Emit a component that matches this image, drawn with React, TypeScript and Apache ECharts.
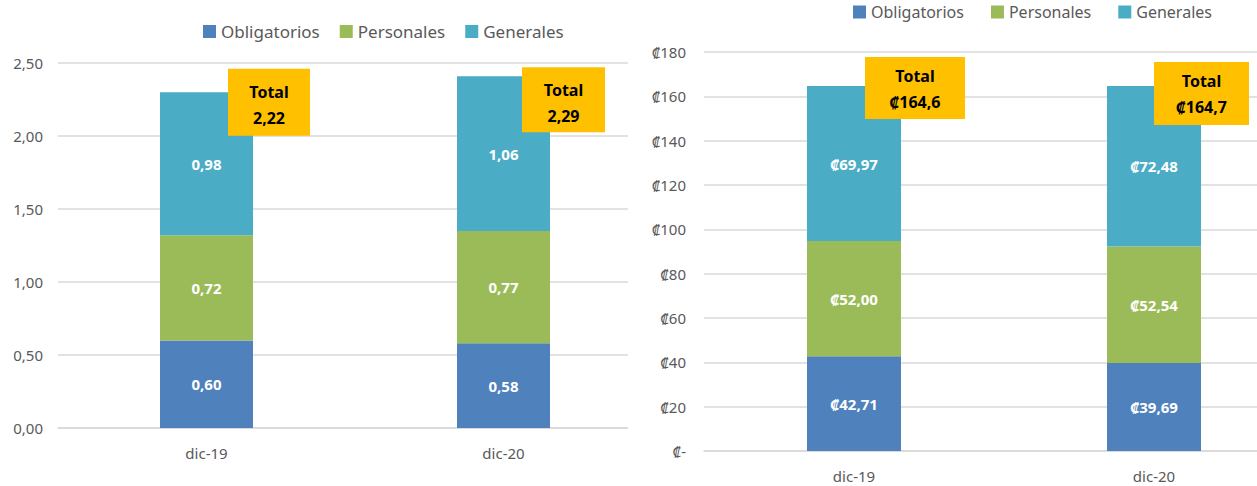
import React, { useEffect, useRef } from "react";
import * as echarts from "echarts";

const categories = ["dic-19", "dic-20"];
const seriesNames = ["Obligatorios", "Personales", "Generales"];

// Left chart values
const leftObligatorios = [0.6, 0.58];
const leftPersonales = [0.72, 0.77];
const leftGenerales = [0.98, 1.06];
const leftTotals = ["2,22", "2,29"];
const leftTicks = [0, 0.5, 1, 1.5, 2, 2.5];

// Right chart values (colones)
const rightObligatorios = [42.71, 39.69];
const rightPersonales = [52.0, 52.54];
const rightGenerales = [69.97, 72.48];
const rightTotals = ["₡164,6", "₡164,7"];
const rightTicks = [0, 20, 40, 60, 80, 100, 120, 140, 160, 180];

const COLORS = ["#4F81BD", "#9BBB59", "#4BACC6"];
const FONT = "'Noto Sans', 'DejaVu Sans', sans-serif";
const GRID_COLOR = "#D9D9D9";
const TEXT_COLOR = "#595959";

const comma = (v: number, d: number) => v.toFixed(d).replace(".", ",");

type BoxStyle = { offset: [number, number]; width: number; pad: number[] };

function buildOption(opts: {
  obl: number[];
  per: number[];
  gen: number[];
  totals: string[];
  ticks: number[];
  yFmt: (v: number) => string;
  valFmt: (v: number) => string;
  grid: any;
  legend: any;
  legendFont: number;
  barWidth: number;
  yMargin: number;
  boxes: BoxStyle[];
}) {
  const { obl, per, gen, totals, ticks } = opts;
  const stacks = [obl, per, gen];
  const tops = categories.map((_, i) => obl[i] + per[i] + gen[i]);
  const step = ticks[1] - ticks[0];
  return {
    animation: false,
    backgroundColor: "#ffffff",
    textStyle: { fontFamily: FONT },
    legend: {
      data: seriesNames,
      icon: "rect",
      itemWidth: 13,
      itemHeight: 13,
      padding: 0,
      textStyle: { fontSize: opts.legendFont, color: TEXT_COLOR, fontFamily: FONT },
      ...opts.legend,
    },
    grid: opts.grid,
    xAxis: {
      type: "category",
      data: categories,
      axisTick: { show: false },
      axisLine: { lineStyle: { color: GRID_COLOR, width: 1.5 } },
      axisLabel: { color: TEXT_COLOR, fontSize: 15, margin: 17, fontFamily: FONT },
    },
    yAxis: {
      type: "value",
      min: ticks[0],
      max: ticks[ticks.length - 1],
      interval: step,
      axisLine: { show: false },
      axisTick: { show: false },
      splitLine: { lineStyle: { color: GRID_COLOR, width: 1.5 } },
      axisLabel: {
        color: TEXT_COLOR,
        fontSize: 15,
        margin: opts.yMargin,
        fontFamily: FONT,
        formatter: opts.yFmt,
      },
    },
    series: [
      ...seriesNames.map((name, k) => ({
        name,
        type: "bar",
        stack: "total",
        barWidth: opts.barWidth,
        data: stacks[k],
        itemStyle: { color: COLORS[k] },
        label: {
          show: true,
          position: "inside",
          color: "#ffffff",
          fontWeight: "bold",
          fontSize: 15,
          fontFamily: FONT,
          formatter: (p: any) => opts.valFmt(p.value),
        },
      })),
      {
        name: "Total",
        type: "scatter",
        symbolSize: 0,
        silent: true,
        z: 10,
        itemStyle: { opacity: 1, color: "#FFC000" },
        data: tops.map((t, i) => ({
          value: t,
          label: {
            show: true,
            position: "inside",
            offset: opts.boxes[i].offset,
            padding: opts.boxes[i].pad,
            backgroundColor: "#FFC000",
            opacity: 1,
            align: "center",
            verticalAlign: "middle",
            formatter: () => "{a|Total}\n{a|" + totals[i] + "}",
            rich: {
              a: {
                width: opts.boxes[i].width,
                align: "center",
                color: "#000000",
                fontWeight: "bold",
                fontSize: 16,
                lineHeight: 26,
                fontFamily: FONT,
              },
            },
          },
        })),
      },
    ],
  };
}

function Chart({ option, style }: { option: any; style: React.CSSProperties }) {
  const ref = useRef<HTMLDivElement>(null);
  useEffect(() => {
    if (!ref.current) return;
    const chart = echarts.init(ref.current, undefined, { renderer: "svg" });
    chart.setOption(option);
    return () => chart.dispose();
  }, [option]);
  return <div ref={ref} style={style} />;
}

const leftOption = buildOption({
  obl: leftObligatorios,
  per: leftPersonales,
  gen: leftGenerales,
  totals: leftTotals,
  ticks: leftTicks,
  yFmt: (v) => comma(v, 2),
  valFmt: (v) => comma(v, 2),
  grid: { left: 58, top: 63, width: 594, height: 365 },
  legend: { left: 203, top: 23, itemGap: 20 },
  legendFont: 17,
  barWidth: 93,
  yMargin: 15,
  boxes: [
    { offset: [62.5, 10], width: 82, pad: [10.5, 0, 4.5, 0] },
    { offset: [60, 23.5], width: 83, pad: [9.5, 0, 3.5, 0] },
  ],
});

const rightOption = buildOption({
  obl: rightObligatorios,
  per: rightPersonales,
  gen: rightGenerales,
  totals: rightTotals,
  ticks: rightTicks,
  yFmt: (v) => (v === 0 ? "₡-" : "₡" + v),
  valFmt: (v) => "₡" + comma(v, 2),
  grid: { left: 76, top: 52, width: 600, height: 399 },
  legend: { left: 225, top: 4, itemGap: 27 },
  legendFont: 16,
  barWidth: 94,
  yMargin: 18,
  boxes: [
    { offset: [61, 2], width: 100, pad: [6, 0, 4, 0] },
    { offset: [47.5, 7.5], width: 95, pad: [6.5, 0, 4.5, 0] },
  ],
});

export default function App() {
  return (
    <div
      style={{
        position: "fixed",
        left: 0,
        top: 0,
        width: 1257,
        height: 486,
        overflow: "hidden",
        background: "#ffffff",
      }}
    >
      <Chart option={leftOption} style={{ position: "absolute", left: 0, top: 0, width: 670, height: 486 }} />
      <Chart option={rightOption} style={{ position: "absolute", left: 628, top: 0, width: 720, height: 486 }} />
    </div>
  );
}
